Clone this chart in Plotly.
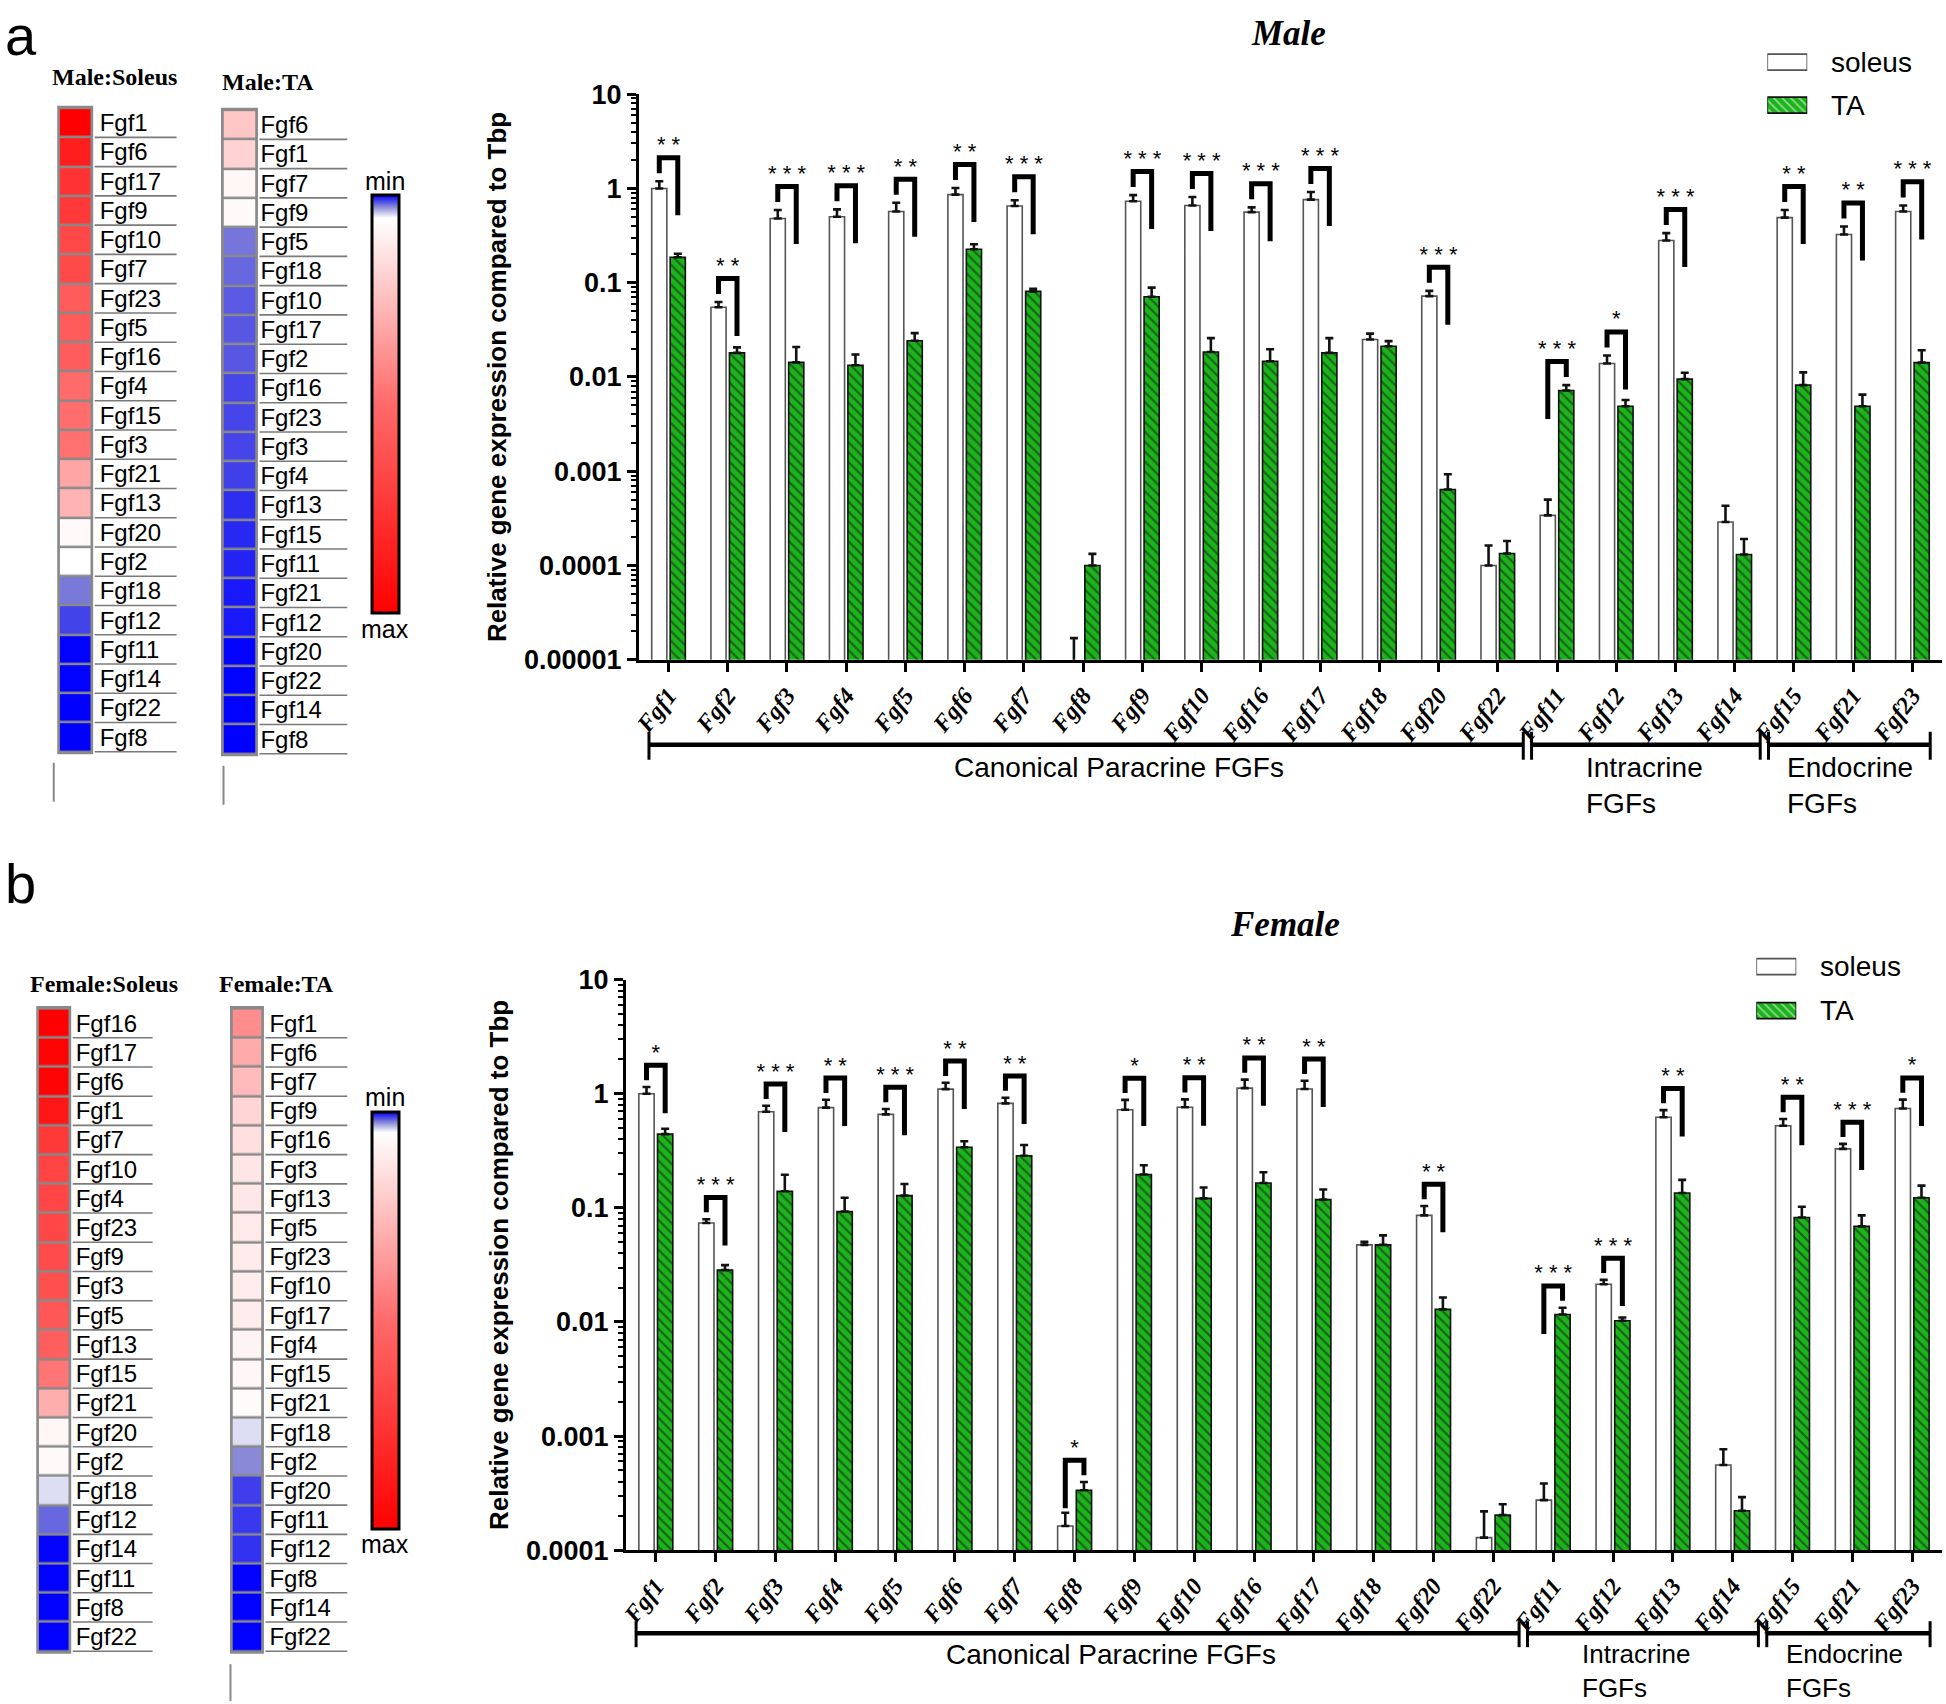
import math
import plotly.graph_objects as go

# ---------------- data ----------------
genes = ["Fgf1", "Fgf2", "Fgf3", "Fgf4", "Fgf5", "Fgf6", "Fgf7", "Fgf8", "Fgf9", "Fgf10", "Fgf16",
         "Fgf17", "Fgf18", "Fgf20", "Fgf22", "Fgf11", "Fgf12", "Fgf13", "Fgf14", "Fgf15", "Fgf21", "Fgf23"]

male_soleus = [1.0, 0.055, 0.48, 0.50, 0.57, 0.86, 0.65, 0.000008, 0.73, 0.66, 0.56,
               0.76, 0.025, 0.072, 0.0001, 0.00034, 0.0139, 0.28, 0.00029, 0.49, 0.325, 0.57]
male_soleus_err = [0.19, 0.0075, 0.11, 0.10, 0.135, 0.15, 0.10, 0.000009, 0.12, 0.15, 0.07,
                   0.156, 0.0038, 0.010, 0.000063, 0.00016, 0.003, 0.056, 0.00014, 0.10, 0.07, 0.09]
male_ta = [0.186, 0.018, 0.0143, 0.0133, 0.0242, 0.226, 0.081, 0.0001, 0.071, 0.0184, 0.0147,
           0.018, 0.0212, 0.00064, 0.000134, 0.0072, 0.0049, 0.0095, 0.000131, 0.0082, 0.0049, 0.0142]
male_ta_err = [0.017, 0.0026, 0.0065, 0.004, 0.005, 0.03, 0.005, 0.000033, 0.0177, 0.0074, 0.005,
               0.0078, 0.0028, 0.00029, 0.000048, 0.001, 0.0008, 0.0016, 0.00006, 0.003, 0.0016, 0.005]
male_sig = ["**", "**", "***", "***", "**", "**", "***", "", "***", "***", "***",
            "***", "", "***", "", "***", "*", "***", "", "**", "**", "***"]

female_soleus = [1.0, 0.0736, 0.695, 0.755, 0.66, 1.097, 0.823, 0.000163, 0.724, 0.762, 1.12,
                 1.10, 0.0474, 0.0859, 0.000129, 0.000275, 0.0214, 0.622, 0.000558, 0.525, 0.329, 0.743]
female_soleus_err = [0.146, 0.006, 0.09, 0.13, 0.075, 0.15, 0.10, 0.00005, 0.16, 0.13, 0.21,
                     0.20, 0.003, 0.018, 0.00009, 0.00011, 0.002, 0.096, 0.00021, 0.076, 0.035, 0.145]
female_ta = [0.443, 0.0285, 0.14, 0.0927, 0.128, 0.34, 0.286, 0.000336, 0.196, 0.121, 0.165,
             0.118, 0.0474, 0.0129, 0.000203, 0.01165, 0.01026, 0.135, 0.000222, 0.0823, 0.0689, 0.1225]
female_ta_err = [0.05, 0.003, 0.055, 0.03, 0.034, 0.043, 0.07, 0.00006, 0.04, 0.03, 0.04,
                 0.027, 0.01, 0.0035, 0.00005, 0.0017, 0.0007, 0.041, 0.00007, 0.02, 0.017, 0.034]
female_sig = ["*", "***", "***", "**", "***", "**", "**", "*", "*", "**", "**",
              "**", "", "**", "", "***", "***", "**", "", "**", "***", "*"]

male_soleus_order = ["Fgf1", "Fgf6", "Fgf17", "Fgf9", "Fgf10", "Fgf7", "Fgf23", "Fgf5", "Fgf16", "Fgf4", "Fgf15",
                     "Fgf3", "Fgf21", "Fgf13", "Fgf20", "Fgf2", "Fgf18", "Fgf12", "Fgf11", "Fgf14", "Fgf22", "Fgf8"]
male_ta_order = ["Fgf6", "Fgf1", "Fgf7", "Fgf9", "Fgf5", "Fgf18", "Fgf10", "Fgf17", "Fgf2", "Fgf16", "Fgf23",
                 "Fgf3", "Fgf4", "Fgf13", "Fgf15", "Fgf11", "Fgf21", "Fgf12", "Fgf20", "Fgf22", "Fgf14", "Fgf8"]
female_soleus_order = ["Fgf16", "Fgf17", "Fgf6", "Fgf1", "Fgf7", "Fgf10", "Fgf4", "Fgf23", "Fgf9", "Fgf3", "Fgf5",
                       "Fgf13", "Fgf15", "Fgf21", "Fgf20", "Fgf2", "Fgf18", "Fgf12", "Fgf14", "Fgf11", "Fgf8", "Fgf22"]
female_ta_order = ["Fgf1", "Fgf6", "Fgf7", "Fgf9", "Fgf16", "Fgf3", "Fgf13", "Fgf5", "Fgf23", "Fgf10", "Fgf17",
                   "Fgf4", "Fgf15", "Fgf21", "Fgf18", "Fgf2", "Fgf20", "Fgf11", "Fgf12", "Fgf8", "Fgf14", "Fgf22"]

series_names = ["soleus", "TA"]

ytick_vals_male = [1e-5, 1e-4, 1e-3, 1e-2, 1e-1, 1, 10]
ytick_text_male = ["0.00001", "0.0001", "0.001", "0.01", "0.1", "1", "10"]
ytick_vals_female = [1e-4, 1e-3, 1e-2, 1e-1, 1, 10]
ytick_text_female = ["0.0001", "0.001", "0.01", "0.1", "1", "10"]

# ---------------- style / layout helpers ----------------
W, H = 1946, 1704
# small correction for how the page ends up photographed
SX, OX = 0.9973, 5.2
SY, OY = 0.983, 14.8


def PX(x):
    return (x - OX) / SX / W


def PY(y):
    return 1 - (y - OY) / SY / H


SANS = "Liberation Sans, Arial, sans-serif"
SERIF = "Liberation Serif, Times New Roman, serif"
GREEN = "#1cb31c"
BARGAP, GROUPGAP = 0.376, 0.18
OFF = (1 - BARGAP) / 4
idx = list(range(len(genes)))
ERR = dict(color="#111111", thickness=2.6, width=4)
SOL_MARKER = dict(color="white", line=dict(color="#555555", width=1.6))
TA_PATTERN = dict(shape="\\", fgcolor="#111111", size=7, solidity=0.3, fillmode="overlay")

fig = go.Figure()
shapes = []
annots = []


def bars(sol, se_s, ta, se_t, xa, ya):
    zeros = [0] * len(sol)
    fig.add_trace(go.Bar(
        x=idx, y=sol, name=series_names[0], xaxis=xa, yaxis=ya, showlegend=False,
        marker=SOL_MARKER,
        error_y=dict(type="data", symmetric=False, array=se_s, arrayminus=zeros, **ERR)))
    fig.add_trace(go.Bar(
        x=idx, y=ta, name=series_names[1], xaxis=xa, yaxis=ya, showlegend=False,
        marker=dict(color=GREEN, line=dict(color="#111111", width=1.6), pattern=TA_PATTERN),
        error_y=dict(type="data", symmetric=False, array=se_t, arrayminus=zeros, **ERR)))


def sig_marks(sol, se_s, ta, se_t, sig, xa, ya, off, short, long_):
    lx, ly, tx, ty, tt = [], [], [], [], []
    for i, s in enumerate(sig):
        if not s:
            continue
        ls = math.log10(sol[i] + se_s[i])
        lt = math.log10(ta[i] + se_t[i])
        top = max(ls, lt) + off
        yl = top - (short if ls >= lt else long_)
        yr = top - (long_ if ls >= lt else short)
        lx += [i - OFF, i - OFF, i + OFF, i + OFF, None]
        ly += [10 ** yl, 10 ** top, 10 ** top, 10 ** yr, None]
        tx.append(i)
        ty.append(10 ** top)
        tt.append(" ".join(s))
    fig.add_trace(go.Scatter(x=lx, y=ly, mode="lines", line=dict(color="black", width=5),
                             xaxis=xa, yaxis=ya, showlegend=False, hoverinfo="skip"))
    fig.add_trace(go.Scatter(x=tx, y=ty, mode="text", text=tt, textposition="top center",
                             textfont=dict(family=SANS, size=22, color="black"),
                             xaxis=xa, yaxis=ya, showlegend=False, hoverinfo="skip"))


def heat(order, values, xa, ya, cax):
    lookup = dict(zip(genes, values))
    fig.add_trace(go.Heatmap(x=[0], y=order, z=[[-lookup[g]] for g in order], coloraxis=cax,
                             xgap=0, ygap=2.5, xaxis=xa, yaxis=ya, hoverinfo="skip"))


def cscale(M, w=0.055):
    return [[0, "#ff0000"], [0.5, "#ff6a6a"], [1 - w / M, "#ffffff"],
            [1 - w / (2 * M), "#8585d6"], [1, "#0000ff"]]


# ---------------- bar charts ----------------
bars(male_soleus, male_soleus_err, male_ta, male_ta_err, "x", "y")
sig_marks(male_soleus, male_soleus_err, male_ta, male_ta_err, male_sig, "x", "y", 0.25, 0.165, 0.61)
bars(female_soleus, female_soleus_err, female_ta, female_ta_err, "x2", "y2")
sig_marks(female_soleus, female_soleus_err, female_ta, female_ta_err, female_sig, "x2", "y2", 0.19, 0.13, 0.42)

axes_layout = {}

# ---------------- custom legends (swatches drawn as tiny bar subplots) ----------------
legend_specs = [("x7", "y7", (1767, 1807), (62, 105), 1829), ("x8", "y8", (1756, 1796), (967, 1011), 1818)]
for xa, ya, (bx0, bx1), (c0, c1), tx0 in legend_specs:
    sp = c1 - c0
    fig.add_trace(go.Bar(
        x=[1, 1], y=[0, 1], orientation="h", width=[16 / sp, 16 / sp], xaxis=xa, yaxis=ya,
        showlegend=False, hoverinfo="skip",
        marker=dict(color=["white", GREEN], line=dict(color=["#555555", "#111111"], width=1.6),
                    pattern=dict(shape=["", "\\"], fgcolor="#111111", size=6, solidity=0.3,
                                 fillmode="overlay"))))
    axes_layout["xaxis" + xa[1:]] = dict(domain=[PX(bx0), PX(bx1)], range=[0, 1], visible=False,
                                         anchor=ya, fixedrange=True)
    axes_layout["yaxis" + ya[1:]] = dict(domain=[PY(c1 + sp / 2), PY(c0 - sp / 2)], range=[1.5, -0.5],
                                         visible=False, anchor=xa, fixedrange=True)
    for name, cy in zip(series_names, (c0, c1)):
        annots.append(dict(x=PX(tx0), y=PY(cy), xref="paper", yref="paper", text=name, showarrow=False,
                           xanchor="left", yanchor="middle", font=dict(family=SANS, size=28, color="black")))

# ---------------- heatmaps ----------------
heat_specs = [
    ("x3", "y3", male_soleus_order, male_soleus, "coloraxis", (57, 88), (108, 752), (92, 174), 8, "Male:Soleus", (112, 77)),
    ("x4", "y4", male_ta_order, male_ta, "coloraxis", (221, 253), (110, 754), (257, 345), 4, "Male:TA", (266, 82)),
    ("x5", "y5", female_soleus_order, female_soleus, "coloraxis2", (36, 66), (1009, 1652), (70, 150), 6, "Female:Soleus", (101, 984)),
    ("x6", "y6", female_ta_order, female_ta, "coloraxis2", (230, 259), (1009, 1652), (263, 345), 7, "Female:TA", (274, 984)),
]

for xa, ya, order, vals, cax, (cx0, cx1), (ry0, ry1), (lx0, lx1), stand, title, (tx, ty) in heat_specs:
    heat(order, vals, xa, ya, cax)
    n = len(order)
    axes_layout["xaxis" + xa[1:]] = dict(domain=[PX(cx0), PX(cx1)], visible=False, anchor=ya, fixedrange=True)
    axes_layout["yaxis" + ya[1:]] = dict(domain=[PY(ry1), PY(ry0)], anchor=xa, type="category",
                                         autorange="reversed", side="right", showline=False,
                                         tickmode="array", tickvals=order, ticktext=order,
                                         showgrid=False, zeroline=False, ticks="",
                                         ticklabelstandoff=stand,
                                         tickfont=dict(family=SANS, size=24, color="black"))
    shapes.append(dict(type="rect", xref="paper", yref="paper", layer="below",
                       x0=PX(cx0 - 2.5), x1=PX(cx1 + 2.5), y0=PY(ry1 + 2.5), y1=PY(ry0 - 2.5),
                       fillcolor="#8a8a8a", line=dict(width=0)))
    rh = (ry1 - ry0) / n
    for k in range(n):
        yy = ry0 + (k + 1) * rh
        shapes.append(dict(type="line", xref="paper", yref="paper", x0=PX(lx0), x1=PX(lx1),
                           y0=PY(yy), y1=PY(yy), line=dict(color="#7a7a7a", width=1.6)))
    annots.append(dict(x=PX(tx), y=PY(ty), xref="paper", yref="paper", text=title, showarrow=False,
                       xanchor="center", yanchor="middle",
                       font=dict(family=SERIF, size=24, color="black", weight="bold")))

for (x, y), t in [((383, 181), "min"), ((383, 629), "max"), ((383, 1097), "min"), ((383, 1545), "max")]:
    annots.append(dict(x=PX(x), y=PY(y), xref="paper", yref="paper", text=t, showarrow=False,
                       xanchor="center", yanchor="middle", font=dict(family=SANS, size=25, color="black")))

for x, y0, y1 in [(51, 763, 802), (221, 766, 805), (228, 1665, 1702)]:
    shapes.append(dict(type="line", xref="paper", yref="paper", x0=PX(x), x1=PX(x), y0=PY(y0), y1=PY(y1),
                       line=dict(color="#888888", width=2)))

# ---------------- group brackets under bar charts ----------------
male_dom = (PX(637), PX(1942))
female_dom = (PX(624), PX(1942))


def groups(dom, ymid, yc0, yc1, yl1, fs_main, fs_side):
    d0, d1 = dom

    def xp(v):
        return d0 + (v + 0.5) / len(genes) * (d1 - d0)

    for a, b in [(-0.33, 14.43), (14.57, 18.43), (18.57, 21.3)]:
        shapes.append(dict(type="line", xref="paper", yref="paper", x0=xp(a), x1=xp(b),
                           y0=PY(ymid), y1=PY(ymid), line=dict(color="black", width=4.5)))
        for v in (a, b):
            shapes.append(dict(type="line", xref="paper", yref="paper", x0=xp(v), x1=xp(v),
                               y0=PY(yc0), y1=PY(yc1), line=dict(color="black", width=3)))
    annots.append(dict(x=xp(7.6), y=PY(yl1), xref="paper", yref="paper", text="Canonical Paracrine FGFs",
                       showarrow=False, xanchor="center", yanchor="middle",
                       font=dict(family=SANS, size=fs_main, color="black")))
    for xv, t1 in [(15.45, "Intracrine<br>FGFs"), (18.85, "Endocrine<br>FGFs")]:
        annots.append(dict(x=xp(xv), y=PY(yl1 - 0.65 * fs_side), xref="paper", yref="paper", text=t1,
                           showarrow=False, xanchor="left", yanchor="top", align="left",
                           font=dict(family=SANS, size=fs_side, color="black")))


groups(male_dom, 745, 732, 760, 768, 28, 28)
groups(female_dom, 1634, 1622, 1648, 1655, 28, 26)

annots.append(dict(x=PX(1288), y=PY(33), xref="paper", yref="paper", text="Male", showarrow=False,
                   xanchor="center", yanchor="middle",
                   font=dict(family=SERIF, size=35, color="black", weight="bold", style="italic")))
annots.append(dict(x=PX(1284), y=PY(925), xref="paper", yref="paper", text="Female", showarrow=False,
                   xanchor="center", yanchor="middle",
                   font=dict(family=SERIF, size=35, color="black", weight="bold", style="italic")))
annots.append(dict(x=PX(0), y=PY(2), xref="paper", yref="paper", text="a", showarrow=False,
                   xanchor="left", yanchor="top", font=dict(family=SANS, size=56, color="black")))
annots.append(dict(x=PX(0), y=PY(850), xref="paper", yref="paper", text="b", showarrow=False,
                   xanchor="left", yanchor="top", font=dict(family=SANS, size=56, color="black")))


# ---------------- axes ----------------
def yax(dom, rng, tv, tt, xa):
    lo, hi = rng
    return dict(domain=dom, type="log", range=[lo, hi], anchor=xa,
                tickmode="array", tickvals=tv, ticktext=tt,
                showline=True, linewidth=3, linecolor="black",
                ticks="outside", ticklen=9, tickwidth=3, tickcolor="black",
                minor=dict(tickmode="array",
                           tickvals=[m * 10 ** k for k in range(lo, hi) for m in range(2, 10)],
                           ticks="outside", ticklen=5, tickwidth=1.5, tickcolor="black", showgrid=False),
                showgrid=False, zeroline=False,
                tickfont=dict(family=SANS, size=27, color="black", weight="bold"),
                title=dict(text="Relative gene expression compared to Tbp", standoff=10,
                           font=dict(family=SANS, size=26, color="black", weight="bold")))


def xax(dom, ya):
    return dict(domain=list(dom), anchor=ya, range=[-0.5, len(genes) - 0.5],
                tickmode="array", tickvals=idx, ticktext=genes, tickangle=-52,
                showline=True, linewidth=3, linecolor="black",
                ticks="outside", ticklen=9, tickwidth=2.5, tickcolor="black",
                showgrid=False, zeroline=False,
                tickfont=dict(family=SERIF, size=24, color="black", weight="bold", style="italic"))


Mm = max(male_soleus + male_ta)
Mf = max(female_soleus + female_ta)


def cbar(y0, y1):
    return dict(x=PX(370), xanchor="left", y=PY((y0 + y1) / 2), yanchor="middle",
                len=(y1 - y0) / SY / H, lenmode="fraction", thickness=27, thicknessmode="pixels",
                outlinewidth=3, outlinecolor="black", xpad=0, ypad=0,
                showticklabels=False, ticks="")


fig.update_layout(
    width=W, height=H, margin=dict(l=0, r=0, t=0, b=0),
    paper_bgcolor="white", plot_bgcolor="white",
    barmode="group", bargap=BARGAP, bargroupgap=GROUPGAP,
    xaxis=xax(male_dom, "y"),
    yaxis=yax([PY(660), PY(94)], (-5, 1), ytick_vals_male, ytick_text_male, "x"),
    xaxis2=xax(female_dom, "y2"),
    yaxis2=yax([PY(1551), PY(980)], (-4, 1), ytick_vals_female, ytick_text_female, "x2"),
    coloraxis=dict(cmin=-Mm, cmax=0, colorscale=cscale(Mm), colorbar=cbar(195, 613)),
    coloraxis2=dict(cmin=-Mf, cmax=0, colorscale=cscale(Mf), colorbar=cbar(1113, 1530)),
    shapes=shapes, annotations=annots,
    showlegend=False,
)
fig.update_layout(**axes_layout)

fig.write_html("out.html", config={"displayModeBar": False},
               post_script="document.body.style.margin='0';document.body.style.overflow='hidden';")
